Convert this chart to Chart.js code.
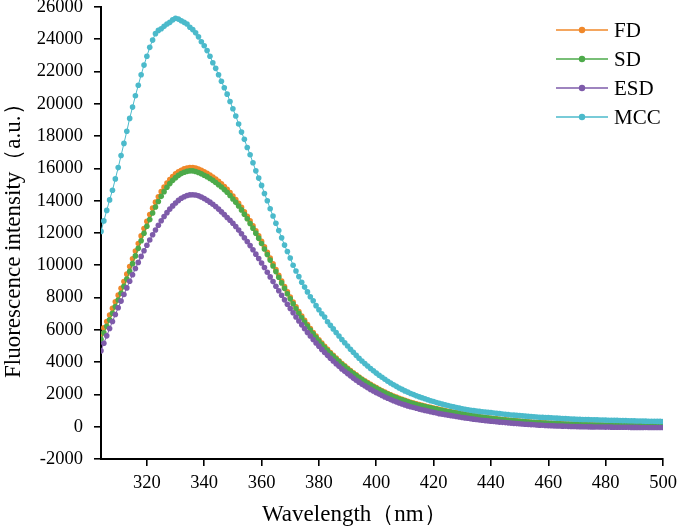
<!DOCTYPE html>
<html>
<head>
<meta charset="utf-8">
<script src="https://cdn.jsdelivr.net/npm/chart.js@4.4.1/dist/chart.umd.min.js"></script>
<style>
  html, body { margin: 0; padding: 0; background: #ffffff; }
  #wrap { width: 677px; height: 529px; position: relative; }
</style>
</head>
<body>
<div id="wrap"><canvas id="c" width="677" height="529"></canvas></div>
<script>
const seriesNames = ["FD", "SD", "ESD", "MCC"];
const seriesColors = ["#F0882A", "#4DAA4A", "#7E5BAA", "#4BBACB"];
const xTickValues = [320, 340, 360, 380, 400, 420, 440, 460, 480, 500];
const yTickValues = [-2000, 0, 2000, 4000, 6000, 8000, 10000, 12000, 14000, 16000, 18000, 20000, 22000, 24000, 26000];
const xTitle = "Wavelength（nm）";
const yTitle = "Fluorescence intensity（a.u.）";

const wavelengths = [
  304, 305, 306, 307, 308, 309, 310, 311, 312, 313,
  314, 315, 316, 317, 318, 319, 320, 321, 322, 323,
  324, 325, 326, 327, 328, 329, 330, 331, 332, 333,
  334, 335, 336, 337, 338, 339, 340, 341, 342, 343,
  344, 345, 346, 347, 348, 349, 350, 351, 352, 353,
  354, 355, 356, 357, 358, 359, 360, 361, 362, 363,
  364, 365, 366, 367, 368, 369, 370, 371, 372, 373,
  374, 375, 376, 377, 378, 379, 380, 381, 382, 383,
  384, 385, 386, 387, 388, 389, 390, 391, 392, 393,
  394, 395, 396, 397, 398, 399, 400, 401, 402, 403,
  404, 405, 406, 407, 408, 409, 410, 411, 412, 413,
  414, 415, 416, 417, 418, 419, 420, 421, 422, 423,
  424, 425, 426, 427, 428, 429, 430, 431, 432, 433,
  434, 435, 436, 437, 438, 439, 440, 441, 442, 443,
  444, 445, 446, 447, 448, 449, 450, 451, 452, 453,
  454, 455, 456, 457, 458, 459, 460, 461, 462, 463,
  464, 465, 466, 467, 468, 469, 470, 471, 472, 473,
  474, 475, 476, 477, 478, 479, 480, 481, 482, 483,
  484, 485, 486, 487, 488, 489, 490, 491, 492, 493,
  494, 495, 496, 497, 498, 499, 500
];

const fdValues = [
  5720, 6120, 6520, 6920, 7330, 7740, 8150, 8570, 9000, 9450,
  9920, 10400, 10880, 11350, 11820, 12280, 12720, 13140, 13540, 13910,
  14250, 14560, 14840, 15090, 15310, 15500, 15660, 15790, 15890, 15970,
  16030, 16060,
  16060, 16020, 15960, 15880, 15790, 15700, 15590, 15470, 15340, 15200,
  15050, 14880, 14700, 14500, 14290, 14070, 13840, 13590, 13320, 13040,
  12750, 12450, 12140, 11820, 11490, 11150, 10800, 10450, 10090, 9730,
  9380, 9030, 8690, 8360, 8040, 7730, 7430, 7140, 6860, 6590,
  6330, 6080, 5840, 5610, 5390, 5180, 4980, 4790, 4600, 4420,
  4250, 4080, 3920, 3770, 3620, 3480, 3340, 3210, 3080, 2960,
  2840, 2730, 2620, 2520, 2420,
  2320, 2230, 2140, 2060, 1980, 1900, 1830, 1760, 1700, 1640,
  1580, 1520, 1470, 1420, 1370, 1320, 1280, 1240, 1200, 1160,
  1120, 1080, 1040, 1000, 960, 930, 900, 870, 840, 810,
  780, 750, 720, 690, 660, 630, 605, 580, 555, 530,
  510, 490, 470, 450, 430, 410, 395, 380, 365, 350,
  335, 320, 305, 290, 280, 270, 260, 250, 240, 230,
  222, 214, 206, 198, 190, 183, 176, 169, 162, 155,
  150, 145, 140, 135, 130, 126, 122, 118, 114, 110,
  107, 104, 101, 98, 95, 92, 89, 86, 83, 80,
  78, 76, 74, 72, 70, 68, 66, 64, 62, 60
];

const sdValues = [
  5420, 5820, 6220, 6620, 7030, 7440, 7850, 8270, 8700, 9150,
  9620, 10100, 10580, 11050, 11520, 11980, 12420, 12840, 13240, 13610,
  13950, 14270, 14560, 14830, 15060, 15260, 15430, 15570, 15680, 15760,
  15820, 15850,
  15850, 15810, 15750, 15670, 15580, 15490, 15380, 15260, 15130, 14990,
  14850, 14690, 14520, 14320, 14110, 13900, 13670, 13430, 13160, 12880,
  12590, 12300, 11990, 11680, 11350, 11010, 10670, 10320, 9960, 9610,
  9260, 8910, 8570, 8240, 7920, 7610, 7310, 7030, 6750, 6490,
  6230, 5990, 5750, 5530, 5310, 5100, 4910, 4720, 4540, 4360,
  4190, 4030, 3870, 3720, 3570, 3430, 3300, 3170, 3040, 2920,
  2800, 2690, 2580, 2480, 2380,
  2280, 2190, 2100, 2020, 1940, 1860, 1790, 1720, 1660, 1600,
  1540, 1480, 1430, 1380, 1330, 1290, 1250, 1210, 1170, 1130,
  1090, 1050, 1010, 970, 935, 905, 875, 845, 815, 785,
  760, 730, 700, 670, 640, 610, 585, 560, 535, 510,
  490, 470, 450, 430, 410, 392, 376, 360, 345, 330,
  315, 300, 286, 272, 260, 250, 240, 230, 220, 210,
  202, 194, 186, 178, 170, 163, 156, 149, 142, 135,
  130, 125, 120, 115, 110, 106, 102, 98, 94, 90,
  87, 84, 81, 78, 75, 72, 69, 66, 63, 60,
  58, 56, 54, 52, 50, 48, 46, 44, 42, 40
];

const esdValues = [
  4700, 5170, 5630, 6080, 6520, 6950, 7370, 7780, 8190, 8600,
  9010, 9410, 9800, 10180, 10550, 10900, 11240, 11570, 11890, 12190,
  12480, 12760, 13020, 13260, 13480, 13680, 13860, 14020, 14150, 14250,
  14320, 14360,
  14370, 14350, 14300, 14230, 14140, 14030, 13910, 13780, 13640, 13480,
  13310, 13140, 12960, 12790, 12600, 12400, 12180, 11950, 11710, 11470,
  11220, 10960, 10690, 10420, 10140, 9860, 9570, 9280, 8990, 8700,
  8420, 8140, 7860, 7590, 7320, 7060, 6800, 6550, 6310, 6070,
  5840, 5620, 5400, 5190, 4990, 4790, 4600, 4420, 4240, 4070,
  3900, 3740, 3580, 3430, 3290, 3150, 3010, 2880, 2760, 2640,
  2530, 2420, 2310, 2210, 2110,
  2020, 1930, 1840, 1760, 1680, 1610, 1540, 1470, 1410, 1350,
  1290, 1240, 1190, 1140, 1090, 1050, 1010, 970, 930, 890,
  850, 810, 780, 750, 720, 690, 660, 630, 600, 570,
  545, 520, 495, 470, 445, 420, 400, 380, 360, 340,
  322, 304, 287, 270, 254, 238, 223, 208, 194, 180,
  167, 154, 142, 130, 119, 108, 98, 88, 79, 70,
  62, 54, 47, 40, 34, 28, 22, 17, 12, 7,
  3, -1, -5, -8, -11, -14, -17, -19, -21, -23,
  -25, -27, -29, -31, -33, -35, -37, -39, -41, -43,
  -44, -45, -46, -47, -48, -49, -50, -51, -52, -53
];

const mccValues = [
  12100, 12750, 13400, 14050, 14650, 15350, 16050, 16800, 17550, 18300,
  19100, 19800, 20500, 21150, 21800, 22400, 22950, 23500, 23950, 24350,
  24550, 24650, 24800, 24950, 25050, 25200, 25300,
  25250, 25150, 25050, 24950, 24750, 24600, 24400, 24150, 23850, 23600,
  23300, 22950, 22550, 22200, 21800, 21400, 21000, 20600, 20150, 19700,
  19250, 18750, 18250, 17800, 17300, 16850, 16350, 15850, 15400, 14950,
  14450, 14000, 13500, 13050, 12600, 12150, 11700, 11250, 10850, 10450,
  10000, 9650, 9300, 8950, 8650, 8350, 8050, 7800, 7500, 7250,
  7000, 6800,
  6500, 6280, 6060, 5840, 5620, 5400, 5200, 5000, 4800, 4610,
  4420, 4240, 4070, 3910, 3760, 3610, 3460, 3320,
  3190, 3060, 2940, 2820, 2710, 2600, 2500, 2400, 2310, 2220,
  2140, 2060, 1990, 1920, 1850, 1790, 1730, 1670, 1610, 1560,
  1500, 1450, 1400, 1355, 1310, 1270, 1230, 1190, 1150, 1110,
  1080, 1050, 1020, 995, 970, 950, 930, 910, 890, 870,
  850, 830, 810, 790, 770, 750, 730, 715, 700, 685,
  670, 655, 640, 625, 610, 600, 590, 580, 570, 560,
  550, 540, 530, 520, 510, 500, 490, 480, 470, 460,
  455, 450, 445, 440, 435, 430, 425, 420, 415, 410,
  405, 400, 395, 390, 385, 380, 375, 370, 365, 360,
  356, 352, 348, 344, 340, 337, 334, 331, 328, 325
];

const seriesValues = [fdValues, sdValues, esdValues, mccValues];
const FONT = "'Liberation Serif', 'Times New Roman', serif";

const overlayPlugin = {
  id: 'overlay',
  afterDraw(chart) {
    const ctx = chart.ctx;
    ctx.save();
    const rows = [30, 59, 88, 117];
    chart.data.datasets.forEach((ds, i) => {
      const y = rows[i];
      ctx.strokeStyle = ds.borderColor;
      ctx.lineWidth = 1.5;
      ctx.beginPath();
      ctx.moveTo(556, y);
      ctx.lineTo(608, y);
      ctx.stroke();
      ctx.fillStyle = ds.borderColor;
      ctx.beginPath();
      ctx.arc(582, y, 3.2, 0, Math.PI * 2);
      ctx.fill();
      ctx.fillStyle = '#000';
      ctx.font = '21px ' + FONT;
      ctx.textAlign = 'left';
      ctx.textBaseline = 'middle';
      ctx.fillText(ds.label, 614, y + 1);
    });
    ctx.fillStyle = '#000';
    ctx.font = '23px ' + FONT;
    ctx.textAlign = 'left';
    ctx.textBaseline = 'alphabetic';
    ctx.fillText(xTitle, 262, 521);
    ctx.translate(20, 378);
    ctx.rotate(-Math.PI / 2);
    ctx.fillText(yTitle, 0, 0);
    ctx.restore();
  }
};

const datasets = seriesNames.map((name, i) => ({
  label: name,
  data: seriesValues[i],
  borderColor: seriesColors[i],
  backgroundColor: seriesColors[i],
  borderWidth: 1,
  pointRadius: 2.8,
  pointBorderWidth: 0,
  pointHoverRadius: 2.8,
  tension: 0,
  fill: false,
  order: seriesNames.length - i
}));

new Chart(document.getElementById('c'), {
  type: 'line',
  data: { labels: wavelengths, datasets: datasets },
  options: {
    responsive: false,
    animation: false,
    layout: { padding: { left: 0, top: 7, right: 14, bottom: 0 } },
    plugins: { legend: { display: false }, tooltip: { enabled: false }, title: { display: false } },
    scales: {
      x: {
        type: 'linear',
        min: 304,
        max: 500,
        afterBuildTicks: (s) => { s.ticks = xTickValues.map(v => ({ value: v })); },
        afterFit: (s) => { s.height = 70; s.paddingLeft = 0; s.paddingRight = 0; },
        ticks: { color: '#000', font: { family: FONT, size: 18.5 }, padding: 6, maxRotation: 0, autoSkip: false,
                 callback: (v) => String(v) },
        grid: { display: true, drawOnChartArea: false, drawTicks: true, tickLength: 7, color: '#000', lineWidth: 1.6 },
        border: { display: true, color: '#000', width: 2 }
      },
      y: {
        type: 'linear',
        min: -2000,
        max: 26000,
        afterBuildTicks: (s) => { s.ticks = yTickValues.map(v => ({ value: v })); },
        afterFit: (s) => { s.width = 101; s.paddingTop = 0; s.paddingBottom = 0; },
        ticks: { color: '#000', font: { family: FONT, size: 18.5 }, padding: 11, autoSkip: false,
                 callback: (v) => String(v) },
        grid: { display: true, drawOnChartArea: false, drawTicks: true, tickLength: 7, color: '#000', lineWidth: 1.6 },
        border: { display: true, color: '#000', width: 2 }
      }
    }
  },
  plugins: [overlayPlugin]
});
</script>
</body>
</html>
